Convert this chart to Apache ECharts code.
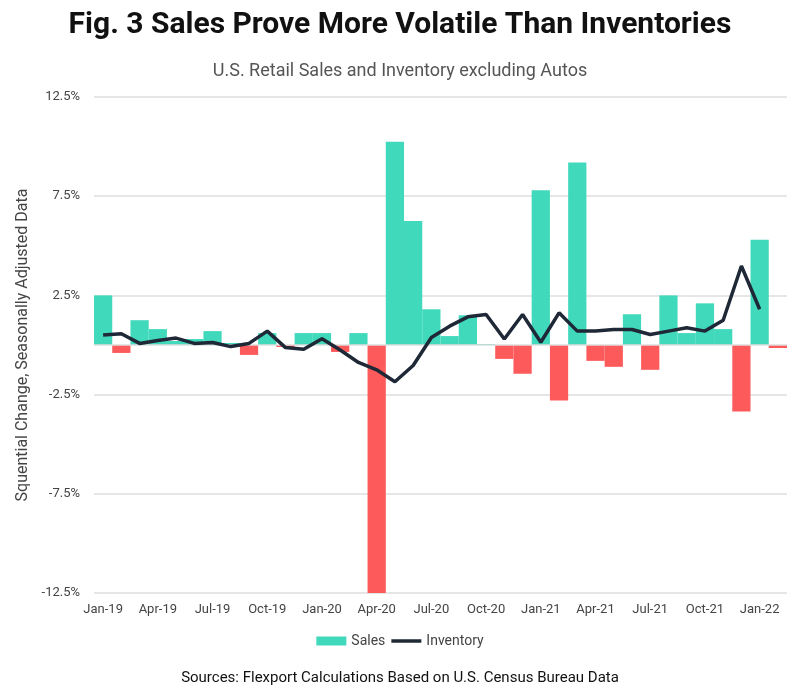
<!DOCTYPE html>
<html lang="en">
<head>
    <meta charset="UTF-8">
    <title>Sales vs Inventories</title>
    <script src="https://cdn.jsdelivr.net/npm/echarts@6/dist/echarts.min.js"></script>
    <style>
        body{margin:0;background:#fff;}
    </style>
</head>
<body>
<div id="main" style="width: 800px;height: 693px;"></div>
<script>
    // months Jan-19 .. Feb-22
    var months=['Jan-19','Feb-19','Mar-19','Apr-19','May-19','Jun-19','Jul-19','Aug-19','Sep-19','Oct-19','Nov-19','Dec-19',
        'Jan-20','Feb-20','Mar-20','Apr-20','May-20','Jun-20','Jul-20','Aug-20','Sep-20','Oct-20','Nov-20','Dec-20',
        'Jan-21','Feb-21','Mar-21','Apr-21','May-21','Jun-21','Jul-21','Aug-21','Sep-21','Oct-21','Nov-21','Dec-21',
        'Jan-22','Feb-22'];
    var sales=[2.5,-0.4,1.25,0.8,0.2,0.3,0.7,0.1,-0.5,0.6,-0.1,0.6,
        0.6,-0.35,0.6,-12.5,10.25,6.25,1.8,0.45,1.5,0.05,-0.7,-1.45,
        7.8,-2.8,9.2,-0.8,-1.1,1.55,-1.25,2.5,0.6,2.1,0.8,-3.35,
        5.3,-0.15];
    var inventory=[0.5,0.57,0.08,0.23,0.35,0.08,0.13,-0.08,0.08,0.7,-0.13,-0.22,
        0.32,-0.25,-0.88,-1.25,-1.85,-1.03,0.38,0.95,1.42,1.54,0.3,1.54,
        0.14,1.62,0.7,0.7,0.78,0.78,0.53,0.7,0.87,0.7,1.25,3.98,
        1.8,null];
    var yTicks=[-12.5,-7.5,-2.5,2.5,7.5,12.5];

    var green='#41d9bb';
    var red='#fd5a5b';
    var navy='#1e2836';

    var barData=sales.map(function(v){
        return {value:v,itemStyle:{color:v<0?red:green}};
    });

    var myChart=echarts.init(document.getElementById('main'));
    var option={
        animation:false,
        title:[
            {
                text:'Fig. 3 Sales Prove More Volatile Than Inventories',
                left:'center',
                top:5,
                textStyle:{fontFamily:'Roboto, sans-serif',fontSize:30,fontWeight:'bold',color:'#111'}
            },
            {
                text:'U.S. Retail Sales and Inventory excluding Autos',
                left:'center',
                top:57,
                textStyle:{fontFamily:'Roboto, sans-serif',fontSize:18,fontWeight:'normal',color:'#555'}
            },
            {
                text:'Sources: Flexport Calculations Based on U.S. Census Bureau Data',
                left:'center',
                top:666,
                textStyle:{fontFamily:'Roboto, sans-serif',fontSize:15,fontWeight:'normal',color:'#111'}
            }
        ],
        legend:{
            bottom:40,
            left:'center',
            itemGap:6,
            itemWidth:30,
            itemHeight:9,
            textStyle:{fontFamily:'Roboto, sans-serif',fontSize:14,color:'#444'},
            data:[
                {name:'Sales',icon:'rect',itemStyle:{color:green}},
                {name:'Inventory',icon:'path://M0,0 L30,0 L30,3.5 L0,3.5 Z',itemStyle:{color:navy}}
            ]
        },
        grid:{left:94,right:13,top:97,bottom:100,containLabel:false},
        xAxis:{
            type:'category',
            data:months,
            axisLine:{show:false},
            axisTick:{show:false},
            axisLabel:{
                interval:2,
                margin:10,
                fontFamily:'Roboto, sans-serif',
                fontSize:13,
                color:'#444'
            }
        },
        yAxis:{
            type:'value',
            min:-12.5,
            max:12.5,
            name:'Squential Change, Seasonally Adjusted Data',
            nameLocation:'middle',
            nameGap:60,
            nameTextStyle:{fontFamily:'Roboto, sans-serif',fontSize:16,color:'#444'},
            axisLine:{show:false},
            axisTick:{show:false,customValues:yTicks},
            axisLabel:{
                customValues:yTicks,
                formatter:function(v){return v+'%';},
                fontFamily:'Roboto, sans-serif',
                fontSize:13,
                color:'#444',
                margin:14
            },
            splitLine:{show:true,lineStyle:{color:'#dedede',width:1.5}}
        },
        series:[
            {
                name:'Sales',
                type:'bar',
                data:barData,
                barCategoryGap:'0%',
                itemStyle:{color:green},
                markLine:{
                    silent:true,
                    symbol:'none',
                    label:{show:false},
                    lineStyle:{color:'#dedede',type:'solid',width:1.5},
                    data:[{yAxis:0}]
                }
            },
            {
                name:'Inventory',
                type:'line',
                data:inventory,
                symbol:'none',
                lineStyle:{color:navy,width:3.5},
                itemStyle:{color:navy},
                z:5
            }
        ]
    };
    myChart.setOption(option);
</script>
</body>
</html>
